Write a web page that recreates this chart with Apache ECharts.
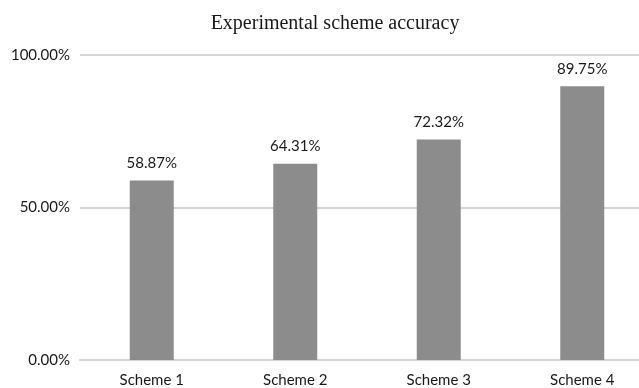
<!DOCTYPE html>
<html>
<head>
<meta charset="utf-8">
<script src="https://cdn.jsdelivr.net/npm/echarts@6/dist/echarts.min.js"></script>
<style>
  html, body { margin: 0; padding: 0; background: #fff; overflow: hidden; }
  #frame { width: 639px; height: 388px; overflow: hidden; }
  /* the plot area runs a little past the right edge of the visible frame */
  #chart { width: 654px; height: 388px; }
</style>
</head>
<body>
<div id="frame"><div id="chart"></div></div>
<script>
// Accuracy of each experimental scheme, in percent
const schemes = ['Scheme 1', 'Scheme 2', 'Scheme 3', 'Scheme 4'];
const accuracy = [58.87, 64.31, 72.32, 89.75];
const yTicks = { min: 0, max: 100, step: 50 };

const sansFont = 'Lato';
const chart = echarts.init(document.getElementById('chart'), null, { renderer: 'canvas' });

chart.setOption({
  backgroundColor: '#ffffff',
  animation: false,
  title: {
    text: 'Experimental scheme accuracy',
    left: 330,
    textAlign: 'center',
    top: 9,
    textStyle: {
      fontFamily: 'Liberation Serif',
      fontWeight: 'normal',
      fontSize: 20,
      color: '#1a1a1a'
    }
  },
  grid: { left: 80, top: 55, bottom: 28, right: 0, containLabel: false },
  xAxis: {
    type: 'category',
    data: schemes,
    axisLine: { show: true, lineStyle: { color: '#d4d4d4', width: 2 } },
    axisTick: { show: false },
    axisLabel: { fontFamily: sansFont, fontSize: 15, color: '#1a1a1a', margin: 13 }
  },
  yAxis: {
    type: 'value',
    min: yTicks.min,
    max: yTicks.max,
    interval: yTicks.step,
    axisLine: { show: false },
    axisTick: { show: false },
    splitLine: { lineStyle: { color: '#d4d4d4', width: 2 } },
    axisLabel: {
      fontFamily: sansFont,
      fontSize: 15,
      color: '#1a1a1a',
      margin: 10,
      formatter: v => v.toFixed(2) + '%'
    }
  },
  series: [{
    type: 'bar',
    data: accuracy,
    barWidth: 44,
    itemStyle: { color: '#8c8c8c' },
    label: {
      show: true,
      position: 'top',
      distance: 10,
      fontFamily: sansFont,
      fontSize: 15,
      color: '#1a1a1a',
      formatter: p => p.value.toFixed(2) + '%'
    }
  }]
});
</script>
</body>
</html>
